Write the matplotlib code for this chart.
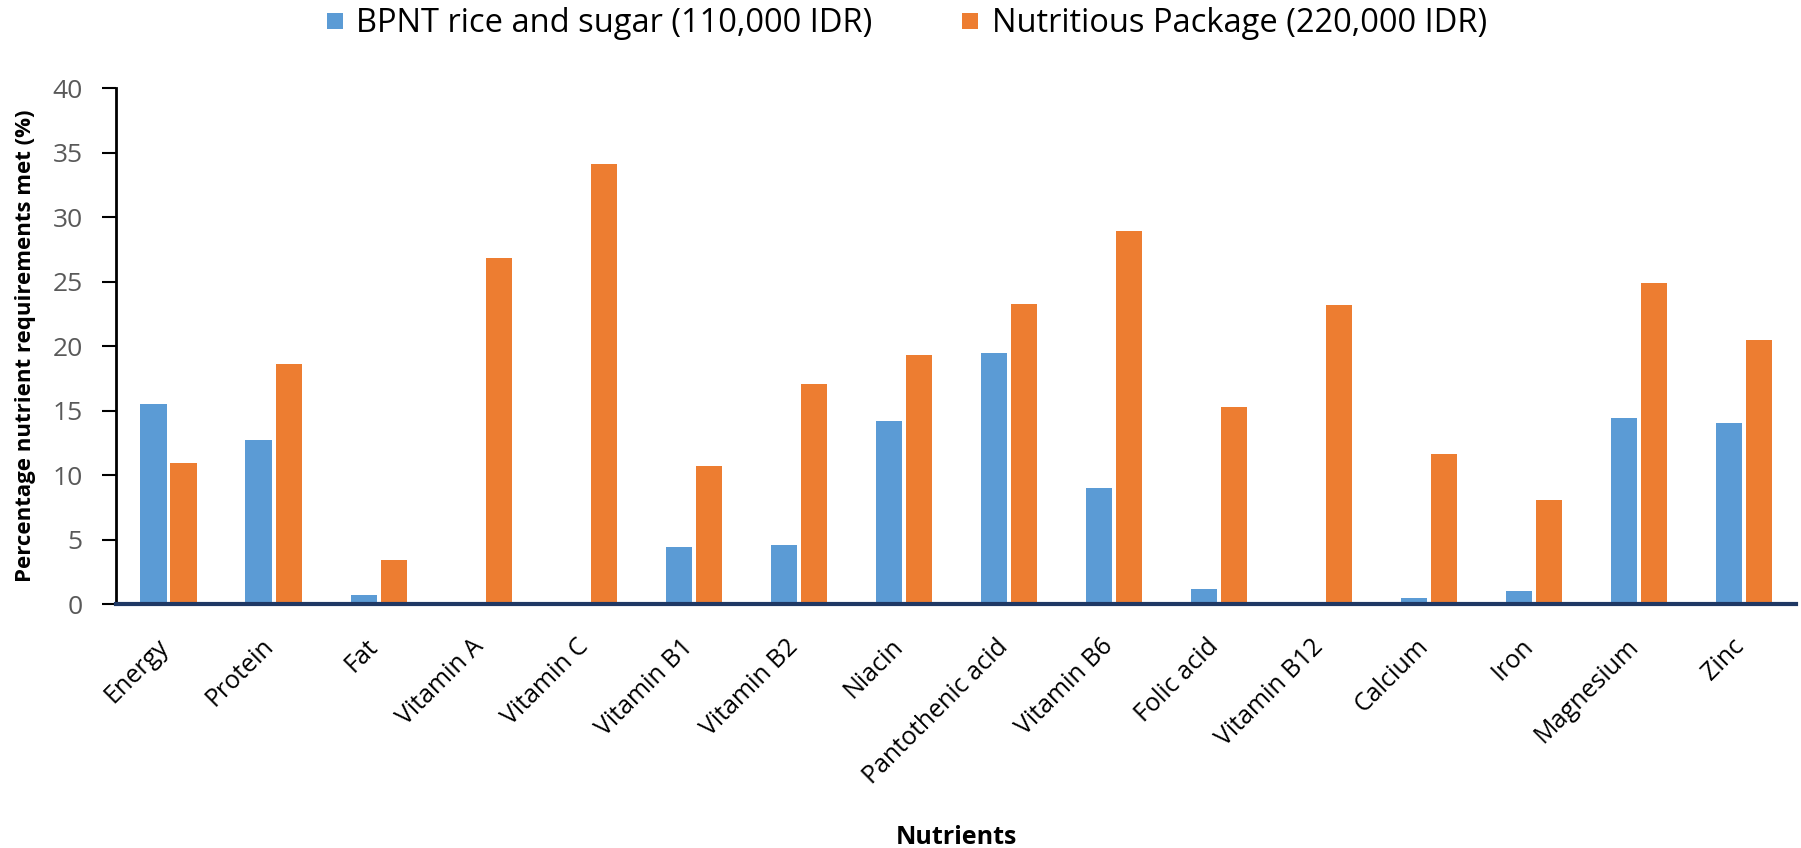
import numpy as np
import matplotlib.pyplot as plt
import matplotlib.transforms as mtransforms
from matplotlib.lines import Line2D

nutrients = ['Energy', 'Protein', 'Fat', 'Vitamin A', 'Vitamin C', 'Vitamin B1',
             'Vitamin B2', 'Niacin', 'Pantothenic acid', 'Vitamin B6', 'Folic acid',
             'Vitamin B12', 'Calcium', 'Iron', 'Magnesium', 'Zinc']
bpnt = [15.5, 12.7, 0.7, 0, 0, 4.4, 4.6, 14.2, 19.5, 9.0, 1.2, 0, 0.5, 1.0, 14.4, 14.0]
package = [10.9, 18.6, 3.4, 26.8, 34.1, 10.7, 17.1, 19.3, 23.3, 28.9, 15.3, 23.2, 11.6, 8.1, 24.9, 20.5]
series_names = ['BPNT rice and sugar (110,000 IDR)', 'Nutritious Package (220,000 IDR)']
yticks = [0, 5, 10, 15, 20, 25, 30, 35, 40]

blue = '#5B9BD5'
orange = '#ED7D31'

plt.rcParams['font.family'] = ['Open Sans', 'DejaVu Sans']

fig = plt.figure(figsize=(18.01, 8.48), dpi=100)
ax = fig.add_axes([0.0644, 0.2877, 0.9331, 0.6083])

x = np.arange(len(nutrients))
w = 0.248
ax.bar(x - 0.143, bpnt, width=w, color=blue, linewidth=0)
ax.bar(x + 0.143, package, width=w, color=orange, linewidth=0)

ax.set_xlim(-0.5, len(nutrients) - 0.5)
ax.set_ylim(0, 40)
ax.set_yticks(yticks)
ax.tick_params(axis='y', labelsize=19, labelcolor='#595959', length=10, width=1.5,
               color='black', pad=14)
ax.set_xticks(x)
ax.set_xticklabels(nutrients, rotation=45, ha='right', va='center',
                   rotation_mode='anchor', fontsize=18)
ax.tick_params(axis='x', length=0, pad=28)
# nudge the slanted category labels so their ends sit over the bar pairs
shift = mtransforms.ScaledTranslation(-4 / 100, 0, fig.dpi_scale_trans)
for lbl in ax.get_xticklabels():
    lbl.set_transform(lbl.get_transform() + shift)

for side in ('top', 'right'):
    ax.spines[side].set_visible(False)
ax.spines['left'].set_linewidth(2)
ax.spines['left'].set_color('black')
ax.spines['bottom'].set_linewidth(3)
ax.spines['bottom'].set_color('#1F3864')

fig.text(26 / 1801, 0.592, 'Percentage nutrient requirements met (%)', fontsize=16,
         fontweight='bold', rotation=90, ha='center', va='center')
fig.text(0.531, 0.0047, 'Nutrients', fontsize=18, fontweight='bold',
         ha='center', va='baseline')

handles = [Line2D([], [], marker='s', linestyle='none', markersize=12,
                  markerfacecolor=c, markeredgewidth=0) for c in (blue, orange)]
fig.legend(handles, series_names, loc='center', bbox_to_anchor=(0.503, 0.972),
           ncol=2, frameon=False, fontsize=23.5, handlelength=0.6,
           handletextpad=0.36, columnspacing=2.7, borderpad=0)

fig.savefig('out.png', dpi=100)
